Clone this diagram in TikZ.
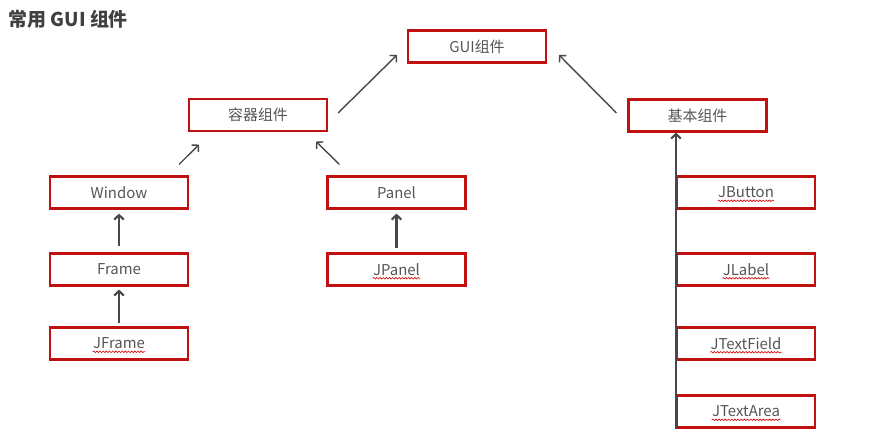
\documentclass[tikz,border=0pt]{standalone}
\usepackage{fontspec}
\setmainfont{Noto Sans CJK SC}
\usetikzlibrary{arrows.meta,decorations.pathmorphing}
\definecolor{boxred}{RGB}{192,16,16}
\definecolor{arrgray}{RGB}{68,74,74}
\definecolor{txtgray}{RGB}{85,85,85}
\tikzset{
	box/.style={draw=boxred, line width=1.2pt, minimum width=2.76cm, minimum height=0.64cm,
		inner sep=0pt, text=txtgray, font=\fontsize{8.5}{10}\selectfont},
	txt/.style={inner sep=0pt, text depth=0pt, text=txtgray, font=\fontsize{8.5}{10}\selectfont},
	arr/.style={draw=arrgray, line width=0.8pt, -{Straight Barb[length=2.6pt,width=5.5pt]}},
	uparr/.style={arr, line width=1.2pt},
	spell/.style={draw=red!85!black, line width=0.35pt, decorate,
		decoration={snake, amplitude=0.45pt, segment length=1.8pt}}
}
% box whose text carries a red wavy underline
\newcommand{\spellbox}[3]{\node[box] (#1) at (#2) {};
	\node[txt] (#1t) at (#1) {#3};
	\draw[spell] ([yshift=-1.6pt]#1t.base west) -- ([yshift=-1.6pt]#1t.base east)}

\begin{document}
\begin{tikzpicture}[x=0.02cm, y=-0.02cm]
	\useasboundingbox (0,0) rectangle (869,440);
	\node[anchor=west, inner sep=0pt, text=black!75, font=\fontsize{10.8}{12}\selectfont\bfseries] (title) at (8,19) {常用 GUI 组件};

	\node[box] (gui) at (477,46.5) {GUI组件};
	\node[box] (rq) at (258,115) {容器组件};
	\node[box] (jb) at (697.5,115.5) {基本组件};

	\node[box] (window) at (119,192.5) {Window};
	\node[box] (frame) at (119,269.5) {Frame};
	\spellbox{jframe}{119,343.5}{JFrame};
	\node[box] (panel) at (396.5,192.5) {Panel};
	\spellbox{jpanel}{396.5,269.5}{JPanel};

	\spellbox{jbutton}{746,192.5}{JButton};
	\spellbox{jlabel}{746,269.5}{JLabel};
	\spellbox{jtextfield}{746,343.5}{JTextField};
	\spellbox{jtextarea}{746,411.5}{JTextArea};

	\draw[arr] ([shift={(10,-2)}]rq.east) -- ([shift={(-10,8.5)}]gui.west);
	\draw[arr] ([shift={(-11,-2.5)}]jb.west) -- ([shift={(12,8.5)}]gui.east);
	\draw[arr] ([shift={(-10,-11)}]window.north east) -- ([shift={(11,12.5)}]rq.south west);
	\draw[arr] ([shift={(13,-11)}]panel.north west) -- ([shift={(-12,9.5)}]rq.south east);

	\draw[uparr, shorten <=3.4pt, shorten >=2.3pt] (frame) -- (window);
	\draw[uparr, shorten <=1.7pt, shorten >=1.7pt] (jframe) -- (frame);
	\draw[uparr, shorten <=2.8pt, shorten >=2.3pt] (jpanel) -- (panel);
	\draw[uparr] (jtextarea.south west) -- (jtextarea.south west |- jb.south);
\end{tikzpicture}
\end{document}
